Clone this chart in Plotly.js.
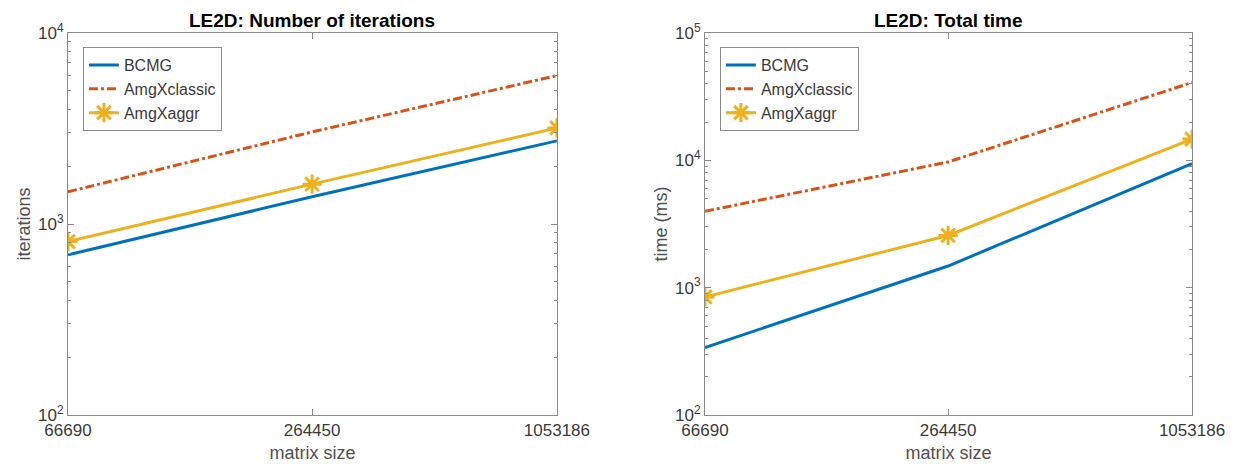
<!DOCTYPE html>
<html>
<head>
<meta charset="utf-8">
<script src="https://cdn.plot.ly/plotly-3.0.1.min.js"></script>
<style>html,body{margin:0;padding:0;background:#fff;}#chart{width:1235px;height:469px;}</style>
</head>
<body>
<div id="chart"></div>
<script>
// ---- data ----
const matrixSize = [66690, 264450, 1053186];
const xTickLabels = ["66690", "264450", "1053186"];
const seriesNames = ["BCMG", "AmgXclassic", "AmgXaggr"];

const iterBCMG = [689, 1389, 2725];
const iterAmgXclassic = [1475, 3034, 5985];
const iterAmgXaggr = [809, 1617, 3184];

const timeBCMG = [339, 1479, 9418];
const timeAmgXclassic = [3981, 9704, 40840];
const timeAmgXaggr = [845, 2570, 14690];

const leftTitle = "LE2D: Number of iterations";
const rightTitle = "LE2D: Total time";
const xTitle = "matrix size";
const leftYTitle = "iterations";
const rightYTitle = "time (ms)";

// ---- styles ----
const colors = ["#0072BD", "#D95319", "#EDB120"];
const FONT = "Liberation Sans, Arial, sans-serif";
const axisColor = "#8a8a8a";
const textColor = "#3a3a3a";

function traces(vals, xa, ya, legend, showlegend) {
  return [
    {x: matrixSize, y: vals[0], name: seriesNames[0], type: "scatter", mode: "lines",
     line: {color: colors[0], width: 3}, xaxis: xa, yaxis: ya, legend: legend, showlegend: showlegend},
    {x: matrixSize, y: vals[1], name: seriesNames[1], type: "scatter", mode: "lines",
     line: {color: colors[1], width: 3, dash: "dashdot"}, xaxis: xa, yaxis: ya, legend: legend, showlegend: showlegend},
    {x: matrixSize, y: vals[2], name: seriesNames[2], type: "scatter", mode: "lines+markers",
     line: {color: colors[2], width: 3}, marker: {symbol: "asterisk-open", size: 16, color: colors[2], line: {color: colors[2], width: 3}},
     xaxis: xa, yaxis: ya, legend: legend, showlegend: showlegend}
  ];
}

const data = [].concat(
  traces([iterBCMG, iterAmgXclassic, iterAmgXaggr], "x", "y", "legend", true),
  traces([timeBCMG, timeAmgXclassic, timeAmgXaggr], "x2", "y2", "legend2", true)
);

function minorVals(lo, hi) {
  const v = [];
  for (let e = lo; e < hi; e++) for (let k = 2; k <= 9; k++) v.push(k * Math.pow(10, e));
  return v;
}
function decadeVals(lo, hi) {
  const v = [], t = [];
  for (let e = lo; e <= hi; e++) { v.push(Math.pow(10, e)); t.push("10<sup>" + e + "</sup>"); }
  return {v, t};
}

function xAxis(domain, anchor) {
  return {
    type: "log", domain: domain, anchor: anchor,
    range: [Math.log10(matrixSize[0]), Math.log10(matrixSize[2])],
    tickvals: matrixSize, ticktext: xTickLabels,
    ticks: "inside", ticklen: 6, tickcolor: axisColor, tickwidth: 1,
    showline: true, linecolor: axisColor, linewidth: 1, mirror: "ticks",
    showgrid: false, zeroline: false,
    tickfont: {family: FONT, size: 17, color: textColor},
    title: {text: xTitle, font: {family: FONT, size: 18, color: "#505050"}, standoff: 6}
  };
}
function yAxis(lo, hi, anchor, title) {
  const d = decadeVals(lo, hi);
  return {
    type: "log", anchor: anchor, domain: [0, 1],
    range: [lo, hi],
    tickvals: d.v, ticktext: d.t,
    ticks: "inside", ticklen: 6, tickcolor: axisColor, tickwidth: 1,
    minor: {tickvals: minorVals(lo, hi), ticks: "inside", ticklen: 3, tickcolor: axisColor, showgrid: false},
    showline: true, linecolor: axisColor, linewidth: 1, mirror: "ticks",
    showgrid: false, zeroline: false,
    tickfont: {family: FONT, size: 17, color: textColor},
    title: {text: title, font: {family: FONT, size: 18, color: "#505050"}, standoff: 2}
  };
}

const legendStyle = {
  bgcolor: "#ffffff", bordercolor: "#8a8a8a", borderwidth: 1,
  font: {family: FONT, size: 16, color: textColor},
  xanchor: "left", yanchor: "top", tracegroupgap: 0, itemwidth: 30
};

const layout = {
  width: 1235, height: 469,
  margin: {l: 68, r: 43, t: 33, b: 54},
  paper_bgcolor: "#fff", plot_bgcolor: "#fff",
  showlegend: true,
  xaxis: xAxis([0, 0.435], "y"),
  yaxis: yAxis(2, 4, "x", leftYTitle),
  xaxis2: xAxis([0.5667, 1], "y2"),
  yaxis2: yAxis(2, 5, "x2", rightYTitle),
  legend: Object.assign({x: 0.0133, y: 0.963}, legendStyle),
  legend2: Object.assign({x: 0.58, y: 0.963}, legendStyle),
  annotations: [
    {text: "<b>" + leftTitle + "</b>", xref: "paper", yref: "paper", x: 0.2175, y: 1, yanchor: "bottom", xanchor: "center",
     showarrow: false, font: {family: FONT, size: 19, color: "#000"}, yshift: 0},
    {text: "<b>" + rightTitle + "</b>", xref: "paper", yref: "paper", x: 0.78335, y: 1, yanchor: "bottom", xanchor: "center",
     showarrow: false, font: {family: FONT, size: 19, color: "#000"}, yshift: 0}
  ]
};

Plotly.newPlot("chart", data, layout, {displayModeBar: false, staticPlot: true});
</script>
</body>
</html>
